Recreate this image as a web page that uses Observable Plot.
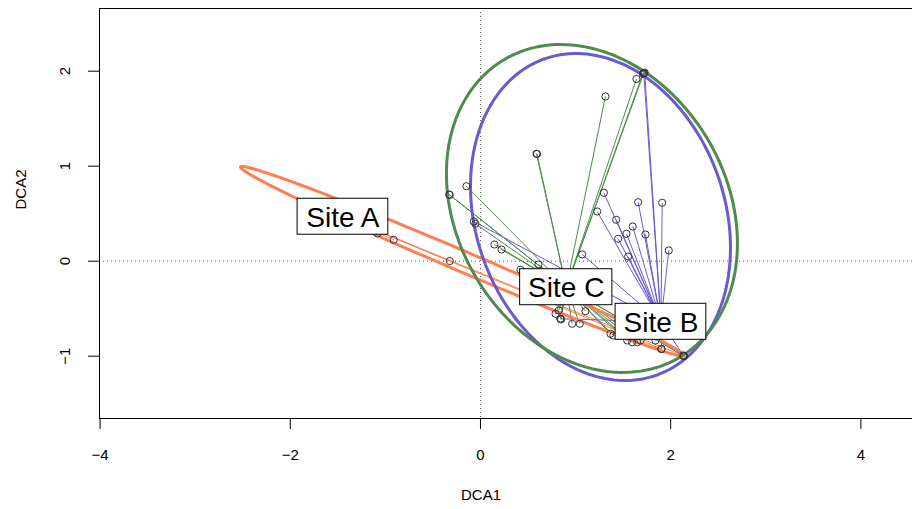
<!DOCTYPE html>
<html><head><meta charset="utf-8">
<script src="https://cdn.jsdelivr.net/npm/d3@7"></script>
<script src="https://cdn.jsdelivr.net/npm/@observablehq/plot@0.6"></script>
<style>html,body{margin:0;padding:0;background:#fff;} svg{display:block;}</style>
</head><body><div id="chart"></div>
<script>
// ---- data ----
const groups = ["Site A", "Site B", "Site C"];
const groupColors = ["#FF7F50", "#6A5ACD", "#4F8B4F"];
// spider centres (label positions)
const centerX = [-1.446, 1.898, 0.902];
const centerY = [0.468, -0.638, -0.274];
// ellipse parameters: centre, sd along x, sd along y, correlation
const ellipseCx = [-0.193, 1.262, 1.172];
const ellipseCy = [0.0, 0.465, 0.555];
const ellipseSx = [2.331, 1.367, 1.530];
const ellipseSy = [0.9975, 1.721, 1.726];
const ellipseR = [-0.993, -0.188, -0.213];
// site scores (DCA1, DCA2) and group index
const siteX = [
  -1.083, -0.912, -0.323, 1.903, 2.138,
  1.717, 1.727, 1.297, 1.227, 1.658, 1.911, 1.427, 1.601, 1.535, 1.448, 1.735, 1.980, 1.553, 1.069, -0.070, 0.841, 2.138, 1.903, 1.840,
  1.717, 1.707, 1.640, 1.314, 0.589, 0.595, -0.147, -0.329, -0.323, -0.053, 0.147, 0.221, 0.421, 0.610, 0.789, 0.823, 0.841, 0.848, 0.964, 1.044, 1.104, 1.367, 1.398, 1.543, 1.595, 1.648, 1.682, 2.138, 2.132
];
const siteY = [
  0.292, 0.225, 0.002, -0.924, -0.998,
  1.979, 1.985, 0.720, 0.523, 0.621, 0.615, 0.436, 0.365, 0.288, 0.236, 0.281, 0.113, 0.049, 0.071, 0.418, -0.606, -0.998, -0.924, -0.835,
  1.979, 1.972, 1.918, 1.734, 1.131, 1.128, 0.789, 0.702, 0.698, 0.394, 0.176, 0.123, -0.091, -0.035, -0.554, -0.519, -0.606, -0.612, -0.659, -0.659, -0.526, -0.764, -0.782, -0.835, -0.853, -0.853, -0.835, -0.998, -0.992
];
const siteGroup = [
  0, 0, 0, 0, 0,
  1, 1, 1, 1, 1, 1, 1, 1, 1, 1, 1, 1, 1, 1, 1, 1, 1, 1, 1,
  2, 2, 2, 2, 2, 2, 2, 2, 2, 2, 2, 2, 2, 2, 2, 2, 2, 2, 2, 2, 2, 2, 2, 2, 2, 2, 2, 2, 2
];
const xTicks = [-4, -2, 0, 2, 4];
const yTicks = [-1, 0, 1, 2];
const xTitle = "DCA1";
const yTitle = "DCA2";

// ---- layout ----
const W = 912, H = 509, ML = 99, MR = 0, MT = 8, MB = 91;
const xDomain = [-4.006, 4.543];
const yDomain = [-1.656, 2.66];
const kx = (W - ML - MR) / (xDomain[1] - xDomain[0]);
const ky = (H - MT - MB) / (yDomain[1] - yDomain[0]);
const FONT = "Liberation Sans, Arial, Helvetica, sans-serif";
const LABEL_SIZE = 28;

// ---- derived tables ----
const sites = siteX.map((x, i) => ({
  x, y: siteY[i], group: groups[siteGroup[i]],
  cx: centerX[siteGroup[i]], cy: centerY[siteGroup[i]]
}));
const ellipses = groups.flatMap((g, i) => d3.range(0, 181).map(k => {
  const t = 2 * Math.PI * k / 180;
  const r = ellipseR[i];
  return {
    group: g,
    x: ellipseCx[i] + ellipseSx[i] * Math.cos(t),
    y: ellipseCy[i] + ellipseSy[i] * (r * Math.cos(t) + Math.sqrt(1 - r * r) * Math.sin(t))
  };
}));
const ctx = document.createElement("canvas").getContext("2d");
ctx.font = `${LABEL_SIZE}px ${FONT}`;
const labels = groups.map((g, i) => {
  const half = ctx.measureText(g).width / 2 + 8;
  return {
    group: g, x: centerX[i], y: centerY[i],
    x1: centerX[i] - half / kx, x2: centerX[i] + half / kx,
    y1: centerY[i] - 18 / ky, y2: centerY[i] + 18 / ky
  };
});
const fmt = d => d < 0 ? "\u2212" + Math.abs(d) : String(d);

const chart = Plot.plot({
  width: W, height: H,
  marginLeft: ML, marginRight: MR, marginTop: MT, marginBottom: MB,
  style: {fontFamily: FONT, background: "#fff", color: "#000"},
  x: {domain: xDomain, axis: null},
  y: {domain: yDomain, axis: null},
  color: {domain: groups, range: groupColors},
  marks: [
    Plot.ruleX([0], {stroke: "#555", strokeDasharray: "1,3"}),
    Plot.ruleY([0], {stroke: "#555", strokeDasharray: "1,3"}),
    Plot.link(sites, {x1: "cx", y1: "cy", x2: "x", y2: "y", stroke: "group", strokeWidth: 1}),
    Plot.line(ellipses, {x: "x", y: "y", z: "group", stroke: "group", strokeWidth: 3}),
    Plot.dot(sites, {x: "x", y: "y", r: 3.6, stroke: "#333", strokeWidth: 1, fill: "none"}),
    Plot.ruleX([xDomain[0]], {stroke: "#000", strokeWidth: 1}),
    Plot.ruleY(yDomain, {stroke: "#000", strokeWidth: 1}),
    Plot.axisX(xTicks, {anchor: "bottom", tickSize: 11, tickPadding: 20, fontSize: 15, label: null, tickFormat: fmt}),
    Plot.axisY(yTicks, {anchor: "left", tickSize: 11, fontSize: 15, label: null, tickFormat: () => ""}),
    Plot.text(yTicks, {y: d => d, text: fmt, frameAnchor: "left", dx: -34, rotate: -90, fontSize: 15, textAnchor: "middle", lineAnchor: "middle"}),
    Plot.text([xTitle], {text: d => d, frameAnchor: "bottom", dx: -25, dy: 77, fontSize: 15, lineAnchor: "middle"}),
    Plot.text([yTitle], {text: d => d, frameAnchor: "left", dx: -78, dy: -4, rotate: -90, fontSize: 15, lineAnchor: "middle"}),
    Plot.rect(labels, {x1: "x1", x2: "x2", y1: "y1", y2: "y2", fill: "#fff", stroke: "#000", strokeWidth: 1}),
    Plot.text(labels, {x: "x", y: "y", text: "group", fontSize: LABEL_SIZE, fill: "#000", dy: 1})
  ]
});
document.getElementById("chart").appendChild(chart);
</script>
</body></html>
